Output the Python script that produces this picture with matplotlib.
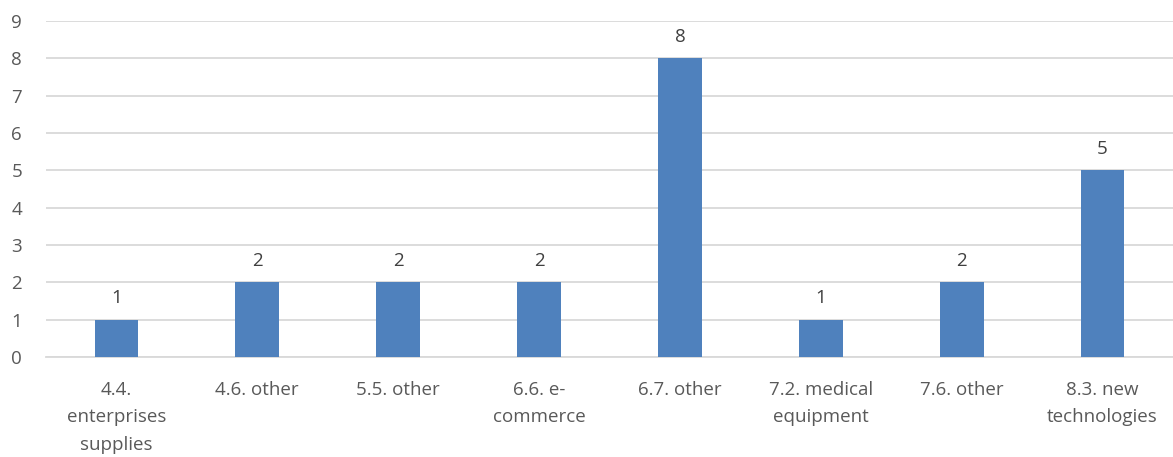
import matplotlib

matplotlib.use("Agg")
import matplotlib.pyplot as plt
import numpy as np

categories = [
    "4.4.\nenterprises\nsupplies",
    "4.6. other",
    "5.5. other",
    "6.6. e-\ncommerce",
    "6.7. other",
    "7.2. medical\nequipment",
    "7.6. other",
    "8.3. new\ntechnologies",
]
counts = [1, 2, 2, 2, 8, 1, 2, 5]

TEXT = "#595959"
BAR = "#4F81BD"
GRID = "#D9D9D9"

plt.rcParams["font.family"] = ["Open Sans", "DejaVu Sans"]

fig = plt.figure(figsize=(11.73, 4.57), dpi=100)
ax = fig.add_axes([0.0392, 0.2188, 0.9608, 0.7352])

x = np.arange(len(categories))
bars = ax.bar(x, counts, width=0.31, color=BAR, zorder=3)
for rect, v in zip(bars, counts):
    ax.text(rect.get_x() + rect.get_width() / 2, v + 0.33, str(v),
            ha="center", va="bottom", fontsize=13.5, color="#404040")

ax.set_xlim(-0.5, len(categories) - 0.5)
ax.set_ylim(0, 9)
ax.set_yticks(range(0, 10))
ax.yaxis.grid(True, color=GRID, linewidth=1.3, zorder=0)
ax.set_xticks(x)
ax.set_xticklabels(categories, linespacing=1.7)
ax.tick_params(axis="both", length=0, colors=TEXT, labelsize=13.5)
ax.tick_params(axis="x", pad=17)
ax.tick_params(axis="y", pad=25)
for lbl in ax.get_yticklabels():
    lbl.set_horizontalalignment("left")
for side in ("top", "right", "left"):
    ax.spines[side].set_visible(False)
ax.spines["bottom"].set_color(GRID)
ax.spines["bottom"].set_linewidth(1.3)

fig.savefig("out.png", dpi=100)
